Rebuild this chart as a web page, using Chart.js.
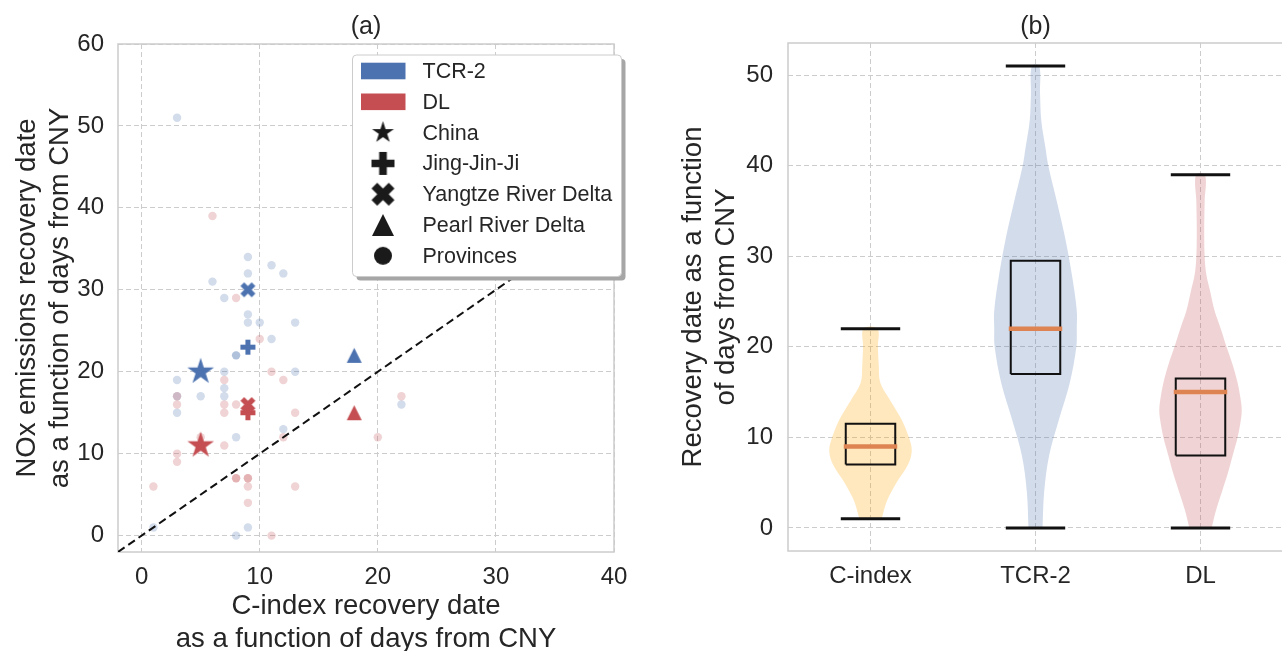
<!DOCTYPE html>
<html>
<head>
<meta charset="utf-8">
<script src="https://cdn.jsdelivr.net/npm/chart.js@4.4.1/dist/chart.umd.min.js"></script>
<style>
  html, body { margin: 0; padding: 0; background: #fff; overflow: hidden; }
  #wrap { position: relative; width: 1282px; height: 651px; }
  #chartA { position: absolute; left: 0; top: 0; }
  #chartB { position: absolute; left: 640px; top: 0; }
</style>
</head>
<body>
<div id="wrap">
  <canvas id="chartA" width="640" height="651"></canvas>
  <canvas id="chartB" width="643" height="651"></canvas>
</div>
<script>
// ---- painel (a): datas de recuperação por província / região ----
const xTicksA = [0, 10, 20, 30, 40];
const yTicksA = [0, 10, 20, 30, 40, 50, 60];
const seriesNames = ['TCR-2', 'DL'];
const regionNames = ['China', 'Jing-Jin-Ji', 'Yangtze River Delta', 'Pearl River Delta'];

const tcrProvX = [3, 9, 11, 9, 12, 6, 7, 9, 9, 10, 13, 11, 8, 8, 7, 13, 3, 7, 3, 5, 7, 3, 12, 8, 1, 9, 8, 22];
const tcrProvY = [51, 34, 33, 32, 32, 31, 29, 27, 26, 26, 26, 24, 22, 22, 20, 20, 19, 18, 17, 17, 17, 15, 13, 12, 1, 1, 0, 16];
const dlProvX = [6, 8, 10, 11, 7, 12, 3, 3, 7, 8, 7, 13, 12, 5, 7, 3, 3, 8, 8, 9, 9, 9, 1, 13, 9, 11, 22, 20];
const dlProvY = [39, 29, 24, 20, 19, 19, 17, 16, 16, 16, 15, 15, 12, 12, 11, 10, 9, 7, 7, 7, 7, 6, 6, 6, 4, 0, 17, 12];

const tcrRegionX = [5, 9, 9, 18];
const tcrRegionY = [20, 23, 30, 22];
const dlRegionX = [5, 9, 9, 18];
const dlRegionY = [11, 15, 16, 15];
const identityLine = [-2, 60];

// ---- painel (b): violinos ----
const violinCats = ['C-index', 'TCR-2', 'DL'];
const yTicksB = [0, 10, 20, 30, 40, 50];
const boxMin = [1, 0, 0];
const boxQ1 = [7, 17, 8];
const boxMedian = [9, 22, 15];
const boxQ3 = [11.5, 29.5, 16.5];
const boxMax = [22, 51, 39];

const cIndexLevels = [1, 3, 5, 7, 8.5, 10, 12, 14, 16, 18, 20, 22];
const cIndexDensity = [0.27, 0.40, 0.63, 0.91, 1.0, 0.93, 0.75, 0.49, 0.24, 0.20, 0.18, 0.17];
const tcrLevels = [0, 4, 8, 12, 16, 20, 22, 24, 28, 32, 36, 40, 42, 45, 48, 51];
const tcrDensity = [0.17, 0.21, 0.33, 0.57, 0.83, 0.99, 1.0, 1.0, 0.88, 0.72, 0.52, 0.31, 0.24, 0.14, 0.11, 0.09];
const dlLevels = [0, 2, 4, 6, 8, 10, 12, 13, 14, 16, 18, 20, 22, 24, 26, 28, 30, 33, 36, 39];
const dlDensity = [0.27, 0.38, 0.52, 0.66, 0.78, 0.90, 0.98, 1.0, 0.98, 0.90, 0.78, 0.63, 0.49, 0.34, 0.24, 0.14, 0.10, 0.09, 0.10, 0.11];

// ---- estilos ----
const FONT = "'Liberation Sans', Arial, sans-serif";
const TEXT = '#262626';
const GRID = '#cccccc';
const BLUE = '#4c72b0';
const RED = '#c44e52';
const BLUE_LIGHT = 'rgba(76,114,176,0.25)';
const RED_LIGHT = 'rgba(196,78,82,0.25)';
const TICK_SIZE = 24;

Chart.defaults.font.family = FONT;
Chart.defaults.color = TEXT;

// marcadores preenchidos no estilo matplotlib
function criarMarcador(forma, tam, cor) {
    const c = document.createElement('canvas');
    c.width = c.height = Math.ceil(tam) + 2;
    const g = c.getContext('2d');
    const r = tam / 2;
    g.translate(c.width / 2, c.height / 2);
    g.fillStyle = cor;
    g.beginPath();
    if (forma === 'star') {
        for (let i = 0; i < 10; i++) {
            const rad = i % 2 ? r * 0.381966 : r;
            const a = -Math.PI / 2 + i * Math.PI / 5;
            g.lineTo(rad * Math.cos(a), rad * Math.sin(a));
        }
    } else if (forma === 'plus') {
        const pts = [[-1, -3], [-1, -1], [-3, -1], [-3, 1], [-1, 1], [-1, 3], [1, 3], [1, 1], [3, 1], [3, -1], [1, -1], [1, -3]];
        pts.forEach(p => g.lineTo(p[0] * r / 3, p[1] * r / 3));
    } else if (forma === 'x') {
        const pts = [[-1, -2], [0, -1], [1, -2], [2, -1], [1, 0], [2, 1], [1, 2], [0, 1], [-1, 2], [-2, 1], [-1, 0], [-2, -1]];
        pts.forEach(p => g.lineTo(p[0] * r / 2, p[1] * r / 2));
    } else if (forma === 'triangle') {
        g.moveTo(0, -r);
        g.lineTo(r, r);
        g.lineTo(-r, r);
    } else {
        g.arc(0, 0, r, 0, Math.PI * 2);
    }
    g.closePath();
    g.fill();
    return c;
}

function marcadoresRegiao(cor) {
    return [criarMarcador('star', 28, cor), criarMarcador('plus', 15, cor),
            criarMarcador('x', 15, cor), criarMarcador('triangle', 15, cor)];
}

const legendaItens = [
    { tipo: 'patch', cor: BLUE, texto: seriesNames[0] },
    { tipo: 'patch', cor: RED, texto: seriesNames[1] },
    { tipo: 'mark', img: criarMarcador('star', 23, '#1a1a1a'), texto: regionNames[0] },
    { tipo: 'mark', img: criarMarcador('plus', 23, '#1a1a1a'), texto: regionNames[1] },
    { tipo: 'mark', img: criarMarcador('x', 23, '#1a1a1a'), texto: regionNames[2] },
    { tipo: 'mark', img: criarMarcador('triangle', 22, '#1a1a1a'), texto: regionNames[3] },
    { tipo: 'mark', img: criarMarcador('circle', 18, '#1a1a1a'), texto: 'Provinces' }
];

// moldura (spines) em volta da área do gráfico
const moldura = {
    id: 'moldura',
    beforeDatasetsDraw(chart) {
        const a = chart.chartArea, ctx = chart.ctx;
        ctx.save();
        ctx.strokeStyle = GRID;
        ctx.lineWidth = 1.5;
        ctx.strokeRect(a.left, a.top, a.right - a.left, a.bottom - a.top);
        ctx.restore();
    }
};

// título do painel centrado na área do gráfico
const tituloPainel = {
    id: 'tituloPainel',
    afterDraw(chart, args, opts) {
        const a = chart.chartArea, ctx = chart.ctx;
        ctx.save();
        ctx.font = '25px ' + FONT;
        ctx.fillStyle = TEXT;
        ctx.textAlign = 'center';
        ctx.textBaseline = 'middle';
        ctx.fillText(opts.text, (a.left + a.right) / 2, 27);
        ctx.restore();
    }
};

// legenda do painel (a), desenhada dentro do gráfico
const legendaA = {
    id: 'legendaA',
    afterDraw(chart) {
        const ctx = chart.ctx;
        const bx = 352.5, by = 55, bw = 269, bh = 221.5;
        ctx.save();
        ctx.fillStyle = '#a6a6a6';
        ctx.beginPath();
        ctx.roundRect(bx + 4, by + 4, bw, bh, 4);
        ctx.fill();
        ctx.fillStyle = '#ffffff';
        ctx.strokeStyle = GRID;
        ctx.lineWidth = 1;
        ctx.beginPath();
        ctx.roundRect(bx, by, bw, bh, 4);
        ctx.fill();
        ctx.stroke();
        ctx.font = '21.5px ' + FONT;
        ctx.textBaseline = 'middle';
        legendaItens.forEach((item, i) => {
            const cy = 71 + i * 30.8;
            if (item.tipo === 'patch') {
                ctx.fillStyle = item.cor;
                ctx.fillRect(361, cy - 8.3, 44.5, 16.6);
            } else {
                ctx.drawImage(item.img, 383 - item.img.width / 2, cy - item.img.height / 2);
            }
            ctx.fillStyle = TEXT;
            ctx.fillText(item.texto, 422.5, cy + 1);
        });
        ctx.restore();
    }
};

const eixoTicks = (lista) => (scale) => { scale.ticks = lista.map(v => ({ value: v })); };

// ---------- painel (a) ----------
new Chart(document.getElementById('chartA'), {
    type: 'scatter',
    data: {
        datasets: [
            {
                label: 'y = x',
                data: identityLine.map(v => ({ x: v, y: v })),
                showLine: true,
                borderColor: '#111111',
                borderWidth: 2,
                borderDash: [8, 4.5],
                pointRadius: 0
            },
            {
                label: 'DL regions',
                data: dlRegionX.map((x, i) => ({ x: x, y: dlRegionY[i] })),
                pointStyle: marcadoresRegiao(RED),
                pointRadius: 8
            },
            {
                label: 'TCR-2 regions',
                data: tcrRegionX.map((x, i) => ({ x: x, y: tcrRegionY[i] })),
                pointStyle: marcadoresRegiao(BLUE),
                pointRadius: 8
            },
            {
                label: 'DL provinces',
                data: dlProvX.map((x, i) => ({ x: x, y: dlProvY[i] })),
                pointRadius: 4.2,
                borderWidth: 0,
                backgroundColor: RED_LIGHT
            },
            {
                label: 'TCR-2 provinces',
                data: tcrProvX.map((x, i) => ({ x: x, y: tcrProvY[i] })),
                pointRadius: 4.2,
                borderWidth: 0,
                backgroundColor: BLUE_LIGHT
            }
        ]
    },
    options: {
        responsive: false,
        animation: false,
        events: [],
        layout: { padding: { top: 44, right: 26, left: 0, bottom: 0 } },
        plugins: {
            legend: { display: false },
            tooltip: { enabled: false },
            tituloPainel: { text: '(a)' }
        },
        scales: {
            x: {
                type: 'linear',
                min: -2,
                max: 40,
                afterBuildTicks: eixoTicks(xTicksA),
                afterFit: (s) => { s.height = 99; },
                ticks: { font: { size: TICK_SIZE }, color: TEXT, padding: 11 },
                grid: { color: GRID, lineWidth: 1, drawTicks: false },
                border: { display: false, dash: [5, 3] },
                title: {
                    display: true,
                    text: ['C-index recovery date', 'as a function of days from CNY'],
                    font: { size: 27.5, lineHeight: 1.18 },
                    color: TEXT,
                    padding: { top: 0, bottom: -4.5 }
                }
            },
            y: {
                type: 'linear',
                min: -2,
                max: 60,
                afterBuildTicks: eixoTicks(yTicksA),
                afterFit: (s) => { s.width = 118; },
                ticks: { font: { size: TICK_SIZE }, color: TEXT, padding: 14 },
                grid: { color: GRID, lineWidth: 1, drawTicks: false },
                border: { display: false, dash: [5, 3] },
                title: {
                    display: true,
                    text: ['NOx emissions recovery date', 'as a function of days from CNY'],
                    font: { size: 27.5, lineHeight: 1.2 },
                    color: TEXT,
                    padding: { top: 11, bottom: 0 }
                }
            }
        }
    },
    plugins: [moldura, tituloPainel, legendaA]
});

// ---------- painel (b) ----------
const perfis = [
    { niveis: cIndexLevels, dens: cIndexDensity, cor: 'rgba(255,165,0,0.26)' },
    { niveis: tcrLevels, dens: tcrDensity, cor: 'rgba(76,114,176,0.25)' },
    { niveis: dlLevels, dens: dlDensity, cor: 'rgba(196,78,82,0.25)' }
];

const dsCaixas = [];
const dsViolinos = [];
violinCats.forEach((nome, i) => {
    const c = i + 1;
    // extremos (barras horizontais)
    [boxMin[i], boxMax[i]].forEach(v => {
        dsCaixas.push({
            label: nome + ' extremo',
            data: [{ x: c - 0.18, y: v }, { x: c + 0.18, y: v }],
            showLine: true, borderColor: '#111111', borderWidth: 3, pointRadius: 0
        });
    });
    // mediana
    dsCaixas.push({
        label: nome + ' mediana',
        data: [{ x: c - 0.162, y: boxMedian[i] }, { x: c + 0.162, y: boxMedian[i] }],
        showLine: true, borderColor: '#dd8452', borderWidth: 4.5, pointRadius: 0
    });
    // caixa Q1–Q3
    dsCaixas.push({
        label: nome + ' caixa',
        data: [
            { x: c - 0.15, y: boxQ1[i] }, { x: c + 0.15, y: boxQ1[i] },
            { x: c + 0.15, y: boxQ3[i] }, { x: c - 0.15, y: boxQ3[i] },
            { x: c - 0.15, y: boxQ1[i] }
        ],
        showLine: true, borderColor: '#111111', borderWidth: 2, pointRadius: 0,
        borderJoinStyle: 'miter'
    });
    // violino: lado direito subindo, lado esquerdo descendo
    const p = perfis[i];
    const dir = p.niveis.map((v, k) => ({ x: c + 0.25 * p.dens[k], y: v }));
    const esq = p.niveis.map((v, k) => ({ x: c - 0.25 * p.dens[k], y: v })).reverse();
    dsViolinos.push({
        label: nome + ' violino',
        data: dir.concat(esq),
        showLine: true,
        borderWidth: 0,
        borderColor: 'rgba(0,0,0,0)',
        backgroundColor: p.cor,
        fill: 'shape',
        tension: 0.35,
        pointRadius: 0
    });
});

new Chart(document.getElementById('chartB'), {
    type: 'scatter',
    data: { datasets: dsCaixas.concat(dsViolinos) },
    options: {
        responsive: false,
        animation: false,
        events: [],
        layout: { padding: { top: 43, right: 0, left: 0, bottom: 0 } },
        plugins: {
            legend: { display: false },
            tooltip: { enabled: false },
            tituloPainel: { text: '(b)' }
        },
        scales: {
            x: {
                type: 'linear',
                min: 0.5,
                max: 3.5,
                afterBuildTicks: eixoTicks(violinCats.map((n, i) => i + 1)),
                afterFit: (s) => { s.height = 100; },
                ticks: {
                    font: { size: TICK_SIZE }, color: TEXT, padding: 11,
                    callback: (v) => violinCats[v - 1]
                },
                grid: { color: GRID, lineWidth: 1, drawTicks: false },
                border: { display: false, dash: [5, 3] }
            },
            y: {
                type: 'linear',
                min: -2.55,
                max: 53.55,
                afterBuildTicks: eixoTicks(yTicksB),
                afterFit: (s) => { s.width = 148; },
                ticks: { font: { size: TICK_SIZE }, color: TEXT, padding: 15 },
                grid: { color: GRID, lineWidth: 1, drawTicks: false },
                border: { display: false, dash: [5, 3] },
                title: {
                    display: true,
                    text: ['Recovery date as a function', 'of days from CNY'],
                    font: { size: 27.5, lineHeight: 1.2 },
                    color: TEXT,
                    padding: { top: 37, bottom: 0 }
                }
            }
        }
    },
    plugins: [moldura, tituloPainel]
});
</script>
</body>
</html>
